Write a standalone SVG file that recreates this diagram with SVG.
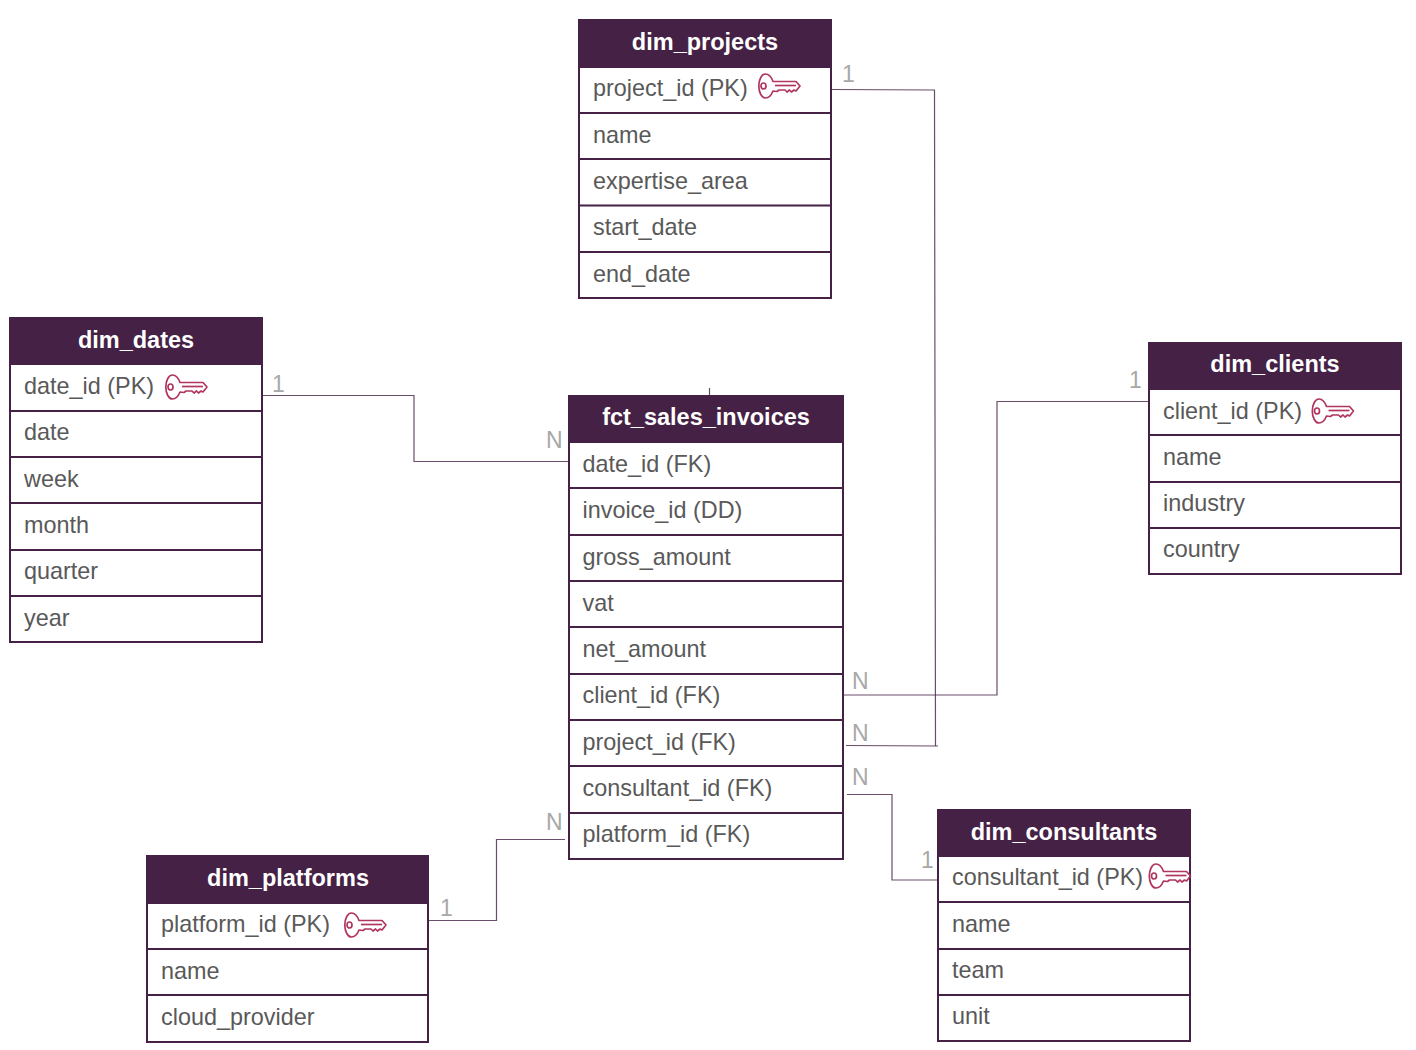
<svg xmlns="http://www.w3.org/2000/svg" xmlns:xlink="http://www.w3.org/1999/xlink" width="1416" height="1050" viewBox="0 0 1416 1050">
<style>
.h{fill:#452145}
.b{fill:#fff;stroke:#452145;stroke-width:2}
.r{stroke:#452145;stroke-width:2;fill:none}
.t{font:23.4px "Liberation Sans",Arial,sans-serif;fill:#595959}
.th{font:bold 23.5px "Liberation Sans",Arial,sans-serif;fill:#fff;text-anchor:middle}
.c{font:23px "Liberation Sans",Arial,sans-serif;fill:#a8a8a8}
.l{stroke:#452145;stroke-width:1.2;fill:none;opacity:.8}
.k{stroke:#b0365f;stroke-width:1.7;fill:none;stroke-linejoin:round}
</style>
<defs>
<g id="key">
<path class="k" d="M15 8.500 C13 3 10 1 7.500 1 C3.500 1 .8 7 .8 13 C.8 19 3.500 25 7.500 25 C10 25 13 23 15 18 L19 18.500 L21 17 H27 L29 19 L31.500 17 L33.500 19 L36 17 L38 18 L42 13 L38 8.500 Z"/>
<ellipse class="k" cx="5.500" cy="13" rx="2.500" ry="3"/>
<path class="k" d="M17 12.500 H38"/>
</g>
</defs>
<g id="connectors">
<path class="l" d="M831 89.500 L934.500 90 L935.500 746"/>
<path class="l" d="M846 745.500 L938 746"/>
<path class="l" d="M843 695 H997 V401.500 H1149"/>
<path class="l" d="M847 794.500 H892 V880 H938"/>
<path class="l" d="M263 395.500 H414 V461.500 H568"/>
<path class="l" d="M429 920.500 H496.500 V839.500 H565"/>
<path class="l" d="M709.500 388 V396"/>
</g>
<g id="connector-labels">
<text class="c" x="842" y="82">1</text>
<text class="c" x="272" y="392">1</text>
<text class="c" x="546" y="448">N</text>
<text class="c" x="1129" y="388">1</text>
<text class="c" x="852" y="689">N</text>
<text class="c" x="852" y="741">N</text>
<text class="c" x="852" y="785">N</text>
<text class="c" x="921" y="868">1</text>
<text class="c" x="546" y="830">N</text>
<text class="c" x="440" y="916">1</text>
</g>
<g id="dim_projects">
<rect class="b" x="579" y="20" width="252" height="278"/>
<rect class="h" x="578" y="19" width="254" height="49"/>
<path class="r" d="M579 113 H831 M579 159 H831 M579 205.500 H831 M579 252 H831"/>
<text class="th" x="705" y="50">dim_projects</text>
<text class="t" x="593" y="96">project_id (PK)</text>
<use xlink:href="#key" href="#key" x="758" y="73"/>
<text class="t" x="593" y="143">name</text>
<text class="t" x="593" y="189">expertise_area</text>
<text class="t" x="593" y="235">start_date</text>
<text class="t" x="593" y="282">end_date</text>
</g>
<g id="dim_dates">
<rect class="b" x="10" y="318" width="252" height="324"/>
<rect class="h" x="9" y="317" width="254" height="48"/>
<path class="r" d="M10 411 H262 M10 457 H262 M10 503 H262 M10 550 H262 M10 596 H262"/>
<text class="th" x="136" y="348">dim_dates</text>
<text class="t" x="24" y="394">date_id (PK)</text>
<use xlink:href="#key" href="#key" x="165" y="374"/>
<text class="t" x="24" y="440">date</text>
<text class="t" x="24" y="487">week</text>
<text class="t" x="24" y="533">month</text>
<text class="t" x="24" y="579">quarter</text>
<text class="t" x="24" y="626">year</text>
</g>
<g id="fct_sales_invoices">
<rect class="b" x="569" y="396" width="274" height="463"/>
<rect class="h" x="568" y="395" width="276" height="48"/>
<path class="r" d="M569 488 H843 M569 535 H843 M569 581 H843 M569 627 H843 M569 674 H843 M569 720 H843 M569 766 H843 M569 813 H843"/>
<text class="th" x="706" y="425">fct_sales_invoices</text>
<text class="t" x="582.500" y="472">date_id (FK)</text>
<text class="t" x="582.500" y="518">invoice_id (DD)</text>
<text class="t" x="582.500" y="565">gross_amount</text>
<text class="t" x="582.500" y="611">vat</text>
<text class="t" x="582.500" y="657">net_amount</text>
<text class="t" x="582.500" y="703">client_id (FK)</text>
<text class="t" x="582.500" y="750">project_id (FK)</text>
<text class="t" x="582.500" y="796">consultant_id (FK)</text>
<text class="t" x="582.500" y="842">platform_id (FK)</text>
</g>
<g id="dim_clients">
<rect class="b" x="1149" y="343" width="252" height="231"/>
<rect class="h" x="1148" y="342" width="254" height="48"/>
<path class="r" d="M1149 435 H1401 M1149 482 H1401 M1149 528 H1401"/>
<text class="th" x="1275" y="372">dim_clients</text>
<text class="t" x="1163" y="419">client_id (PK)</text>
<use xlink:href="#key" href="#key" x="1311.500" y="398"/>
<text class="t" x="1163" y="465">name</text>
<text class="t" x="1163" y="511">industry</text>
<text class="t" x="1163" y="557">country</text>
</g>
<g id="dim_consultants">
<rect class="b" x="938" y="810" width="252" height="231"/>
<rect class="h" x="937" y="809" width="254" height="48"/>
<path class="r" d="M938 902 H1190 M938 949 H1190 M938 995 H1190"/>
<text class="th" x="1064" y="840">dim_consultants</text>
<text class="t" x="952" y="885">consultant_id (PK)</text>
<use xlink:href="#key" href="#key" x="1148.500" y="863"/>
<text class="t" x="952" y="932">name</text>
<text class="t" x="952" y="978">team</text>
<text class="t" x="952" y="1024">unit</text>
</g>
<g id="dim_platforms">
<rect class="b" x="147" y="856" width="281" height="186"/>
<rect class="h" x="146" y="855" width="283" height="49"/>
<path class="r" d="M147 949 H428 M147 995 H428"/>
<text class="th" x="288" y="886">dim_platforms</text>
<text class="t" x="161" y="932">platform_id (PK)</text>
<use xlink:href="#key" href="#key" x="344" y="912"/>
<text class="t" x="161" y="979">name</text>
<text class="t" x="161" y="1025">cloud_provider</text>
</g>
</svg>
